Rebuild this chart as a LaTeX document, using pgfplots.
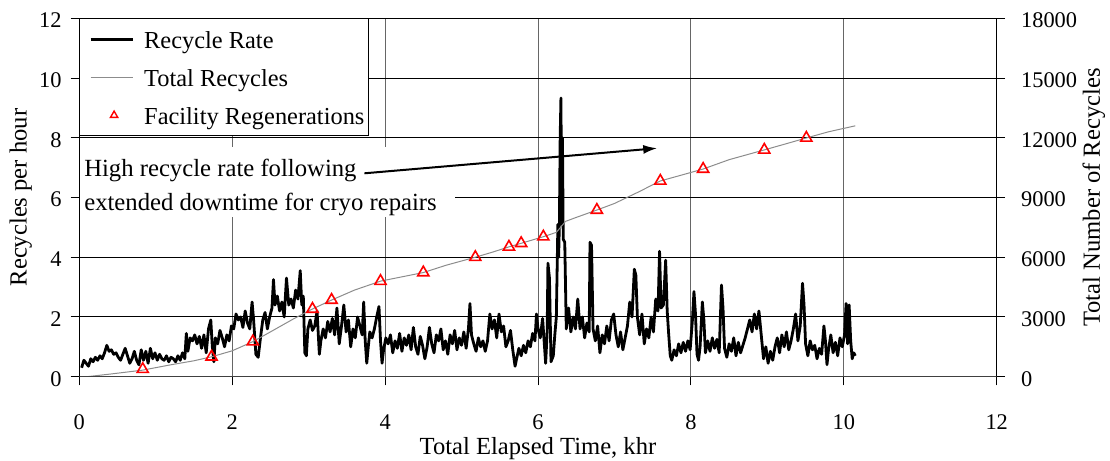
\documentclass[border=0pt]{standalone}
\usepackage{fontspec}
\setmainfont{Liberation Serif}
\usepackage{pgfplots}
\usepackage{pgfplotstable}
\pgfplotsset{compat=1.18}
\usetikzlibrary{arrows.meta}

\pgfplotstableread{
x y
0.03 0.30
0.06 0.55
0.09 0.45
0.12 0.35
0.15 0.60
0.18 0.50
0.21 0.65
0.24 0.55
0.27 0.70
0.30 0.60
0.33 0.80
0.36 1.05
0.39 0.85
0.42 0.90
0.45 0.75
0.48 0.80
0.51 0.65
0.54 0.55
0.57 0.75
0.60 0.95
0.63 0.70
0.66 0.45
0.69 0.60
0.72 0.85
0.75 0.55
0.78 0.40
0.81 0.90
0.84 0.55
0.87 0.85
0.90 0.45
0.93 0.95
0.96 0.60
0.99 0.80
1.02 0.55
1.05 0.75
1.08 0.60
1.11 0.55
1.14 0.70
1.17 0.50
1.20 0.65
1.23 0.60
1.26 0.50
1.29 0.70
1.32 0.55
1.35 0.80
1.38 0.60
1.40 1.45
1.42 0.85
1.45 1.30
1.48 1.20
1.51 1.40
1.54 1.10
1.57 1.35
1.60 0.95
1.63 1.40
1.66 0.80
1.69 1.60
1.72 1.90
1.74 1.00
1.76 0.50
1.78 1.30
1.81 1.10
1.84 1.55
1.87 1.30
1.90 1.00
1.93 1.40
1.96 1.20
1.99 1.70
2.02 1.60
2.05 2.10
2.08 1.90
2.11 2.00
2.14 1.65
2.17 2.20
2.20 1.80
2.23 1.60
2.26 2.50
2.28 1.90
2.31 0.75
2.34 0.65
2.37 1.30
2.40 1.90
2.43 2.15
2.46 1.60
2.49 2.00
2.52 2.30
2.54 3.25
2.56 2.40
2.59 2.70
2.62 2.20
2.65 2.50
2.68 2.00
2.71 3.30
2.74 2.40
2.77 2.60
2.80 2.30
2.83 2.90
2.86 2.60
2.89 3.55
2.91 2.40
2.93 2.70
2.95 0.80
2.97 0.70
2.99 1.60
3.02 1.90
3.05 1.55
3.08 1.70
3.11 2.20
3.14 0.75
3.16 1.20
3.19 1.60
3.22 1.30
3.25 1.85
3.28 1.50
3.31 1.95
3.34 1.40
3.37 2.30
3.40 1.10
3.43 1.70
3.46 2.40
3.49 1.50
3.52 1.90
3.55 1.00
3.58 1.60
3.61 1.30
3.64 2.00
3.67 1.70
3.70 1.40
3.72 2.50
3.74 1.20
3.76 0.45
3.78 1.00
3.80 1.50
3.83 1.30
3.86 1.60
3.89 2.00
3.92 2.35
3.94 1.20
3.96 0.45
3.98 0.90
4.01 1.30
4.04 1.10
4.07 1.40
4.10 0.80
4.13 1.20
4.16 0.95
4.19 1.45
4.22 0.85
4.25 1.30
4.28 1.05
4.31 1.40
4.34 0.90
4.37 1.65
4.40 1.00
4.43 0.75
4.46 1.35
4.49 1.05
4.52 0.60
4.55 1.00
4.58 1.65
4.61 1.10
4.64 0.80
4.67 1.40
4.70 1.20
4.73 1.60
4.76 0.90
4.79 1.20
4.82 0.75
4.85 1.40
4.88 1.10
4.91 1.55
4.94 0.90
4.97 1.30
5.00 1.05
5.03 1.50
5.06 0.95
5.09 1.60
5.11 2.45
5.13 1.40
5.16 1.10
5.19 0.85
5.22 1.30
5.25 1.00
5.28 1.20
5.31 0.85
5.34 1.20
5.37 2.10
5.40 1.60
5.43 1.90
5.46 1.30
5.49 2.10
5.52 1.50
5.55 1.70
5.58 1.00
5.61 1.20
5.64 1.55
5.67 0.90
5.70 0.35
5.72 0.60
5.75 0.95
5.78 0.70
5.81 1.05
5.84 0.80
5.87 1.20
5.90 1.00
5.93 1.45
5.96 1.20
5.98 2.10
6.00 1.60
6.03 1.30
6.06 1.95
6.08 1.20
6.10 0.45
6.12 1.50
6.13 3.80
6.15 3.30
6.17 0.50
6.20 0.70
6.22 1.40
6.24 2.00
6.26 5.10
6.27 4.00
6.28 5.15
6.29 8.00
6.30 9.33
6.31 5.10
6.32 8.00
6.33 4.60
6.35 4.50
6.37 1.60
6.40 2.30
6.43 1.50
6.46 2.00
6.49 1.60
6.52 2.60
6.55 1.60
6.58 2.00
6.61 1.30
6.64 1.80
6.67 1.50
6.68 4.50
6.70 4.40
6.72 1.60
6.75 1.20
6.78 1.70
6.81 0.80
6.84 1.40
6.87 1.10
6.90 1.70
6.93 1.20
6.96 1.90
6.99 2.10
7.02 1.40
7.05 1.00
7.08 1.50
7.11 0.90
7.14 1.30
7.17 1.70
7.20 2.50
7.23 2.00
7.26 3.60
7.28 3.40
7.30 2.00
7.33 1.40
7.36 2.10
7.39 1.10
7.42 1.60
7.45 1.30
7.48 2.00
7.51 1.50
7.54 2.60
7.57 2.20
7.59 4.20
7.61 2.30
7.64 2.40
7.67 3.90
7.69 2.20
7.71 1.40
7.73 0.70
7.75 0.55
7.78 0.90
7.81 0.70
7.84 1.10
7.87 0.80
7.90 1.15
7.93 0.85
7.96 1.20
7.99 0.90
8.02 1.90
8.04 2.85
8.06 2.10
8.08 0.75
8.10 0.55
8.12 1.00
8.15 2.50
8.17 1.90
8.19 0.80
8.22 1.20
8.25 0.85
8.28 1.30
8.31 0.95
8.34 1.25
8.37 0.80
8.40 3.07
8.42 2.30
8.44 0.95
8.47 0.65
8.50 1.10
8.53 0.85
8.56 1.30
8.59 0.70
8.62 1.15
8.65 0.80
8.68 1.05
8.71 1.30
8.74 1.60
8.77 1.90
8.80 1.50
8.83 2.10
8.86 1.60
8.89 2.20
8.92 1.40
8.95 0.60
8.98 1.00
9.01 0.45
9.04 0.85
9.07 0.55
9.10 1.00
9.13 1.30
9.16 0.80
9.19 1.40
9.22 1.00
9.25 1.50
9.28 0.90
9.31 1.20
9.34 1.60
9.37 2.10
9.40 1.20
9.43 1.70
9.46 3.13
9.48 2.40
9.50 1.10
9.53 0.70
9.56 1.20
9.59 0.90
9.62 1.05
9.65 0.60
9.68 0.95
9.71 0.75
9.74 1.70
9.76 1.20
9.78 0.40
9.80 0.90
9.83 1.40
9.86 0.80
9.89 1.15
9.92 0.70
9.95 1.30
9.98 1.00
10.01 1.40
10.03 2.45
10.05 1.10
10.07 2.40
10.09 1.20
10.11 0.60
10.13 0.80
10.15 0.70
}\ratetable

\pgfplotstableread{
x y
0.10 0
0.40 130
0.83 330
1.20 600
1.50 800
1.73 1000
2.00 1300
2.27 1760
2.50 2250
2.80 2900
3.05 3400
3.30 3850
3.60 4350
3.94 4800
4.20 5000
4.50 5230
4.80 5600
5.18 6000
5.40 6250
5.62 6520
5.78 6700
6.07 7030
6.24 7250
6.36 7800
6.50 8000
6.77 8370
7.00 8700
7.30 9250
7.60 9830
7.90 10150
8.16 10430
8.50 10900
8.96 11390
9.20 11650
9.51 11990
9.80 12300
10.15 12600
}\totaltable

\pgfplotstableread{
x y
0.83 375
1.73 1000
2.27 1760
3.05 3400
3.30 3850
3.94 4800
4.50 5230
5.18 6000
5.62 6520
5.78 6700
6.07 7030
6.77 8370
7.60 9830
8.16 10430
8.96 11390
9.51 11990
}\regentable

\pgfplotsset{
  lineimg/.style={legend image code/.code={\path[draw=none] (0pt,0pt) -- (24.65pt,0pt); \draw[##1] (3.35pt,0pt) -- (24.65pt,0pt);}},
  markimg/.style={legend image code/.code={\path[draw=none] (0pt,0pt) -- (24.65pt,0pt); \draw[red, line width=0.7pt, line join=miter] (15.15pt,2.1pt) -- (13.33pt,-1.05pt) -- (16.97pt,-1.05pt) -- cycle;}},
}

\begin{document}
\begin{tikzpicture}
\pgfplotsset{
  /pgf/number format/assume math mode=true,
  /pgf/number format/set thousands separator={},
}
\begin{axis}[
  name=ax1,
  scale only axis, width=458.7pt, height=179.2pt,
  xmin=0, xmax=12, ymin=0, ymax=12,
  xtick={0,2,...,12}, ytick={0,2,...,12},
  xtick pos=bottom, ytick pos=left,
  tick align=outside, major tick length=4.3pt,
  tick style={black, line width=0.5pt},
  grid=major,
  x grid style={black!60, line width=0.5pt},
  y grid style={black, line width=0.5pt},
  axis line style={black, line width=0.5pt},
  ticklabel style={font=\fontsize{11.2}{13}\selectfont, inner sep=0pt},
  xticklabel style={anchor=base, yshift=-22.2pt},
  yticklabel style={anchor=east, xshift=-4.35pt, yshift=-1pt},
  every axis x label/.style={at={(axis description cs:0.5,-0.2157)}, anchor=base, font=\fontsize{12.3}{14}\selectfont},
  every axis y label/.style={at={(axis description cs:-0.0573,0.5)}, rotate=90, anchor=base, font=\fontsize{12.3}{14}\selectfont},
  xlabel={Total Elapsed Time, khr},
  ylabel={Recycles per hour},
]
\addplot[black, line width=1.4pt, line join=round, mark=none] table {\ratetable};
\fill[white] (axis cs:0.013,5.35) rectangle (axis cs:4.91,7.69);
\node[anchor=base west, inner sep=0pt, font=\fontsize{12.35}{14}\selectfont] at (axis cs:0.06,6.696) {High recycle rate following};
\node[anchor=base west, inner sep=0pt, font=\fontsize{12.35}{14}\selectfont] at (axis cs:0.06,5.581) {extended downtime for cryo repairs};
\draw[line width=1pt, -{Latex[length=7pt,width=4.5pt]}] (axis cs:3.73,6.81) -- (axis cs:7.56,7.65);
\end{axis}
\begin{axis}[
  name=ax2,
  scale only axis, width=458.7pt, height=179.2pt,
  xmin=0, xmax=12, ymin=0, ymax=18000,
  axis x line=none, axis y line*=right,
  ytick={0,3000,...,18000},
  scaled y ticks=false,
  tick align=center, major tick length=8.5pt,
  tick style={black, line width=0.5pt},
  axis line style={black, line width=0.5pt},
  ticklabel style={font=\fontsize{11.2}{13}\selectfont, inner sep=0pt},
  yticklabel style={anchor=west, xshift=7.75pt, yshift=-1pt},
  every axis y label/.style={at={(axis description cs:1.1126,0.5)}, rotate=90, anchor=base, font=\fontsize{12.3}{14}\selectfont},
  ylabel={Total Number of Recycles},
  legend cell align=left,
  legend style={at={(0,1)}, anchor=north west, draw=black, line width=0.5pt, fill=white,
    inner xsep=2pt, inner ysep=3pt, row sep=4.5pt, column sep=4.85pt,
    font=\fontsize{12.2}{14}\selectfont,
    nodes={inner sep=0pt, text height=11.85pt, text depth=2.65pt}},
]
\addlegendimage{black, line width=1.4pt, lineimg}
\addlegendimage{black!45, line width=0.5pt, lineimg}
\addlegendimage{markimg}
\addplot[black!45, line width=0.5pt, mark=none, forget plot] table {\totaltable};
\addplot[only marks, red, mark=triangle, mark size=3.2pt, mark options={line width=0.8pt}, forget plot] table {\regentable};
\draw[line width=1pt, black!75] (axis cs:0,0) -- (axis cs:12,0);
\legend{Recycle Rate, Total Recycles, Facility Regenerations}
\end{axis}
\pgfresetboundingbox
\path[use as bounding box] ([shift={(-39.65pt,-42.15pt)}]ax1.south west) rectangle ([shift={(56.65pt,9.15pt)}]ax1.north east);
\end{tikzpicture}
\end{document}
